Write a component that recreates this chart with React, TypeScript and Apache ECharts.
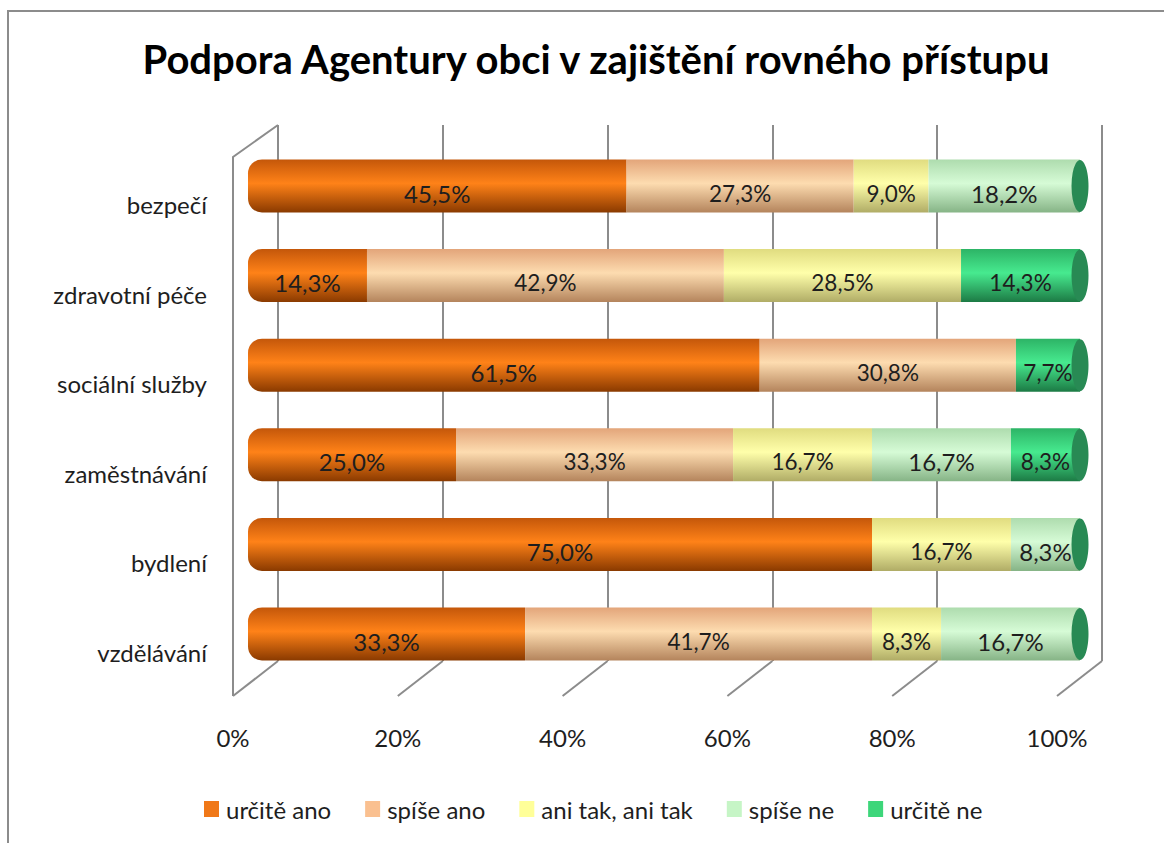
import React, { useEffect, useRef } from "react";
import * as echarts from "echarts";

const categories = ["bezpečí", "zdravotní péče", "sociální služby", "zaměstnávání", "bydlení", "vzdělávání"];
const seriesNames = ["určitě ano", "spíše ano", "ani tak, ani tak", "spíše ne", "určitě ne"];
const urciteAno = [45.5, 14.3, 61.5, 25.0, 75.0, 33.3];
const spiseAno = [27.3, 42.9, 30.8, 33.3, null, 41.7];
const aniTak = [9.0, 28.5, null, 16.7, 16.7, 8.3];
const spiseNe = [18.2, null, null, 16.7, 8.3, 16.7];
const urciteNe = [null, 14.3, 7.7, 8.3, null, null];
const xTickValues = [0, 20, 40, 60, 80, 100];

const FONT = "Lato";
const GRAY = "#8c8c8c";

// colour ramps: [edge top, middle, edge bottom, legend]
const ramps = [
  ["#c4570a", "#ff8218", "#8a3a00", "#f07818"],
  ["#e3a57a", "#fddcb0", "#b4845c", "#fac090"],
  ["#e0dc80", "#ffffaa", "#b0ac66", "#ffff99"],
  ["#aedcae", "#d6fbd6", "#86b486", "#c6f5c6"],
  ["#2db466", "#47ea8f", "#1c7a44", "#3dd67a"],
];

const grad = (r: string[]) =>
  new echarts.graphic.LinearGradient(0, 0, 0, 1, [
    { offset: 0, color: r[0] },
    { offset: 0.45, color: r[1] },
    { offset: 1, color: r[2] },
  ]);

export default function App() {
  const ref = useRef<HTMLDivElement>(null);
  useEffect(() => {
    const chart = echarts.init(ref.current!, undefined, { renderer: "svg" });
    const data = [urciteAno, spiseAno, aniTak, spiseNe, urciteNe];
    const totals = categories.map((_, i) => data.reduce((s, arr) => s + (arr[i] || 0), 0));

    // 3D frame geometry
    const frontL = 233, frontR = 1057, frontY = 696;
    const backL = 278, backR = 1102, backTop = 125, backBottom = 661;
    const step = (frontR - frontL) / 5;
    const frameLines: any[] = xTickValues.map((_, k) => ({
      type: "line",
      shape: { x1: frontL + step * k, y1: frontY, x2: backL + step * k, y2: backBottom },
      style: { stroke: GRAY, lineWidth: 2 },
      silent: true,
    }));
    frameLines.push({
      type: "polyline",
      shape: { points: [[frontL, frontY], [frontL, 157], [backL, backTop]] },
      style: { stroke: GRAY, lineWidth: 2, fill: null },
      silent: true,
    });
    frameLines.push({
      type: "rect",
      shape: { x: 8, y: 11, width: 1200, height: 900 },
      style: { stroke: GRAY, lineWidth: 2, fill: null },
      silent: true,
    });

    const labelFont = [24, 22.5, 22.5, 24, 22.5];

    const barSeries = data.map((arr, si) => ({
      name: seriesNames[si],
      type: "bar",
      stack: "total",
      xAxisIndex: 0,
      yAxisIndex: 0,
      barWidth: 53,
      data: arr,
      z: 3,
      itemStyle: {
        color: grad(ramps[si]),
        borderRadius: si === 0 ? [14, 0, 0, 14] : 0,
      },
      label: {
        show: true,
        position: "inside",
        offset: [0, 7],
        fontFamily: FONT,
        fontSize: labelFont[si],
        color: "#1e1e1e",
        formatter: (p: any) =>
          p.value == null || p.value === 0 ? "" : Number(p.value).toFixed(1).replace(".", ",") + "%",
      },
    }));

    const option: any = {
      animation: false,
      backgroundColor: "#ffffff",
      title: {
        text: "Podpora Agentury obci v zajištění rovného přístupu",
        left: 591,
        top: 34,
        textAlign: "center",
        textStyle: { fontFamily: FONT, fontWeight: "bold", fontSize: 40, color: "#000" },
      },
      legend: {
        data: seriesNames.map((n, i) => ({ name: n, itemStyle: { color: ramps[i][3] } })),
        left: 204,
        top: 797,
        padding: 0,
        itemWidth: 15,
        itemHeight: 16,
        itemGap: 34,
        icon: "rect",
        textStyle: { fontFamily: FONT, fontSize: 24, color: "#1e1e1e", padding: [0, 0, 0, 2] },
      },
      grid: [
        { left: 248, top: 141.2, width: 832, height: 537.6 },
        { left: backL, top: backTop, width: backR - backL, height: backBottom - backTop },
        { left: frontL, top: 160, width: frontR - frontL, height: 537 },
      ],
      xAxis: [
        { gridIndex: 0, type: "value", min: 0, max: 100, show: false },
        {
          gridIndex: 1, type: "value", min: 0, max: 100, interval: 20,
          axisLine: { show: false }, axisTick: { show: false }, axisLabel: { show: false },
          splitLine: { show: true, lineStyle: { color: GRAY, width: 2 } },
        },
        {
          gridIndex: 2, type: "value", min: 0, max: 100, interval: 20,
          axisLine: { show: false }, axisTick: { show: false }, splitLine: { show: false },
          axisLabel: {
            margin: 28, fontFamily: FONT, fontSize: 24, color: "#1e1e1e",
            formatter: (v: number) => v + "%",
          },
        },
      ],
      yAxis: [
        { gridIndex: 0, type: "category", data: categories, inverse: true, show: false },
        { gridIndex: 1, type: "value", show: false },
        {
          gridIndex: 2, type: "category", data: categories, inverse: true,
          axisLine: { show: false }, axisTick: { show: false },
          axisLabel: { margin: 26, fontFamily: FONT, fontSize: 24, color: "#1e1e1e" },
        },
      ],
      series: [
        ...barSeries,
        {
          type: "scatter",
          xAxisIndex: 0,
          yAxisIndex: 0,
          symbol: "circle",
          symbolSize: [17, 52],
          z: 4,
          silent: true,
          itemStyle: { color: "#288a54", opacity: 1 },
          data: totals.map((t, i) => [t, categories[i]]),
        },
      ],
      graphic: frameLines,
    };
    chart.setOption(option);
    return () => chart.dispose();
  }, []);
  return (
    <div
      ref={ref}
      style={{ position: "absolute", left: 0, top: 0, width: 1164, height: 843 }}
    />
  );
}
